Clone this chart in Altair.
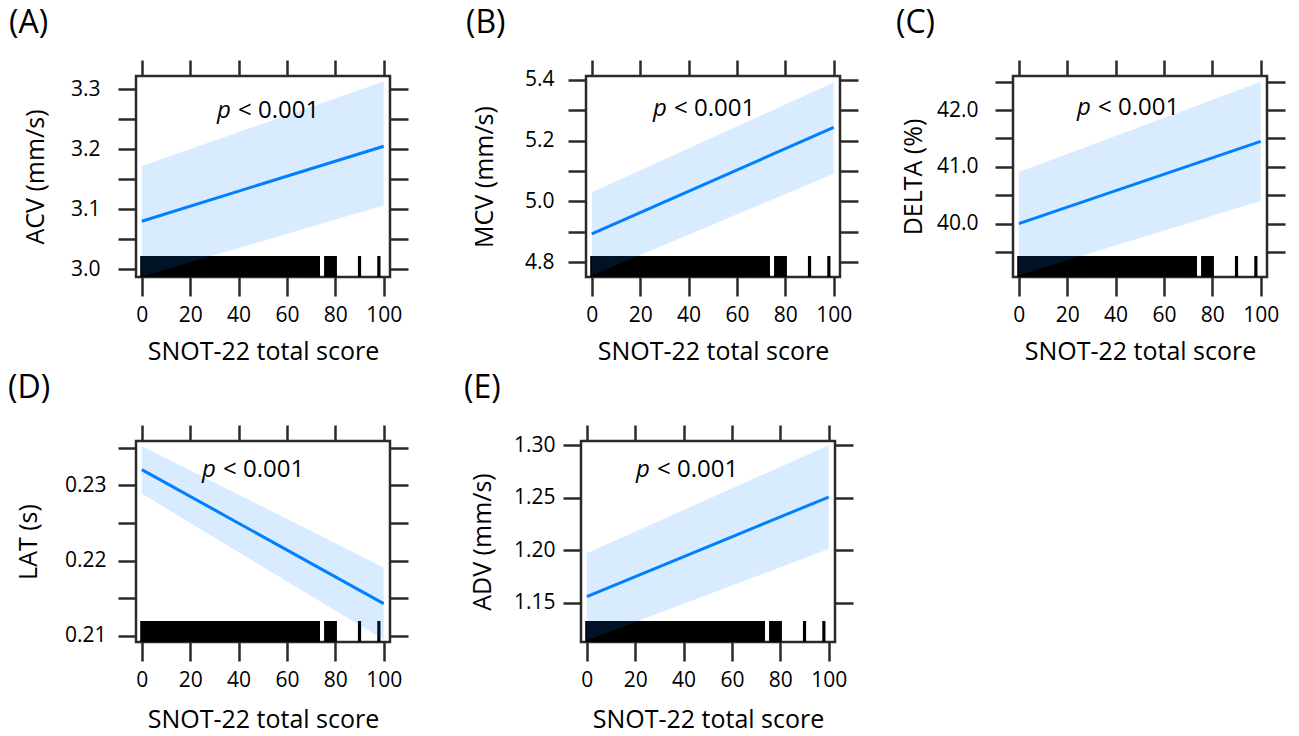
import altair as alt
import pandas as pd

FONT = "Open Sans"
BLUE = "#0080ff"

# ---- shared x (SNOT-22 total score) ----
score_ticks = [0, 20, 40, 60, 80, 100]
score_domain = [-2.4, 102.6]
rug_scores = [0, 1, 2, 3, 4, 5, 6, 7, 8, 9, 10, 11, 12, 13, 14, 15, 16, 17, 18, 19,
              20, 21, 22, 23, 24, 25, 26, 27, 28, 29, 30, 31, 32, 33, 34, 35, 36, 37, 38, 39,
              40, 41, 42, 43, 44, 45, 46, 47, 48, 49, 50, 51, 52, 53, 54, 55, 56, 57, 58, 59,
              60, 61, 62, 63, 64, 65, 66, 67, 68, 69, 70, 71, 72, 73, 76, 77, 78, 79, 80, 90, 98]
fit_x = [0, 100]

# ---- panel data ----
panel_tags = ["(A)", "(B)", "(C)", "(D)", "(E)"]
y_titles = ["ACV (mm/s)", "MCV (mm/s)", "DELTA (%)", "LAT (s)", "ADV (mm/s)"]
p_text = "< 0.001"

fit_A = [3.080, 3.205]
lower_A = [2.988, 3.106]
upper_A = [3.172, 3.313]

fit_B = [4.893, 5.244]
lower_B = [4.756, 5.091]
upper_B = [5.030, 5.392]

fit_C = [40.00, 41.45]
lower_C = [39.09, 40.40]
upper_C = [40.91, 42.50]

fit_D = [0.2321, 0.2143]
lower_D = [0.2289, 0.2095]
upper_D = [0.2352, 0.2191]

fit_E = [1.1557, 1.2506]
lower_E = [1.1140, 1.2010]
upper_E = [1.1970, 1.3000]

y_domains = [[2.987, 3.322], [4.751, 5.413], [39.06, 42.60], [0.2092, 0.2359], [1.1124, 1.304]]
y_ticks = [
    [3.0, 3.05, 3.1, 3.15, 3.2, 3.25, 3.3],
    [4.8, 4.9, 5.0, 5.1, 5.2, 5.3, 5.4],
    [39.5, 40.0, 40.5, 41.0, 41.5, 42.0, 42.5],
    [0.21, 0.215, 0.22, 0.225, 0.23, 0.235],
    [1.15, 1.2, 1.25, 1.3],
]
y_labels = [
    [3.0, 3.1, 3.2, 3.3],
    [4.8, 5.0, 5.2, 5.4],
    [40.0, 41.0, 42.0],
    [0.21, 0.22, 0.23],
    [1.15, 1.2, 1.25, 1.3],
]
y_formats = [".1f", ".1f", ".1f", ".2f", ".2f"]

fits = [fit_A, fit_B, fit_C, fit_D, fit_E]
lowers = [lower_A, lower_B, lower_C, lower_D, lower_E]
uppers = [upper_A, upper_B, upper_C, upper_D, upper_E]

# layout (pixels)
W, H = 254, 201
RUG_H = 21
tag_dx = [-127, -120, -117, -128, -117]
label_pad = [18, 14, 17, 12, 8]
title_pad = [22, 27, 10, 23, 18]
x_title_pad = [14, 14, 14, 17, 17]
p_pos = [(81, 42), (67, 40), (64, 39), (66, 36), (55, 36)]


def panel(i):
    xs = alt.Scale(domain=score_domain, nice=False, zero=False)
    ys = alt.Scale(domain=y_domains[i], nice=False, zero=False)
    labs = "[" + ",".join(repr(v) for v in y_labels[i]) + "]"
    label_expr = f"indexof({labs}, datum.value) >= 0 ? format(datum.value, '{y_formats[i]}') : ''"

    curve = pd.DataFrame({"x": fit_x, "fit": fits[i], "lo": lowers[i], "hi": uppers[i]})
    rug = pd.DataFrame({"score": rug_scores})

    rug_layer = alt.Chart(rug).mark_rule(color="black", strokeWidth=3.2).encode(
        x=alt.X("score:Q", scale=xs,
                axis=alt.Axis(orient="bottom", values=score_ticks, title="SNOT-22 total score",
                              tickSize=19, labelPadding=8, titlePadding=x_title_pad[i], format="d")),
        y=alt.value(H),
        y2=alt.value(H - RUG_H),
    )
    band = alt.Chart(curve).mark_area(color=BLUE, opacity=0.15, clip=True).encode(
        x=alt.X("x:Q", scale=xs,
                axis=alt.Axis(orient="top", values=score_ticks, labels=False, title=None, tickSize=16)),
        y=alt.Y("lo:Q", scale=ys,
                axis=alt.Axis(orient="left", values=y_ticks[i], labelExpr=label_expr,
                              title=y_titles[i], tickSize=18, labelPadding=label_pad[i],
                              titlePadding=title_pad[i])),
        y2="hi:Q",
    )
    line = alt.Chart(curve).mark_line(color=BLUE, strokeWidth=3, clip=True).encode(
        x=alt.X("x:Q", scale=xs, axis=None),
        y=alt.Y("fit:Q", scale=ys,
                axis=alt.Axis(orient="right", values=y_ticks[i], labels=False, title=None, tickSize=18)),
    )
    px, py = p_pos[i]
    p_italic = alt.Chart(pd.DataFrame({"t": ["p"]})).mark_text(
        font=FONT, fontSize=24, fontStyle="italic", align="left", baseline="alphabetic", color="black"
    ).encode(text="t:N", x=alt.value(px), y=alt.value(py))
    p_rest = alt.Chart(pd.DataFrame({"t": [p_text]})).mark_text(
        font=FONT, fontSize=24, align="left", baseline="alphabetic", color="black"
    ).encode(text="t:N", x=alt.value(px + 21), y=alt.value(py))

    return alt.layer(rug_layer, band, line, p_italic, p_rest).resolve_axis(
        x="independent", y="independent"
    ).properties(
        width=W, height=H,
        title=alt.TitleParams(panel_tags[i], anchor="start", frame="group", dx=tag_dx[i],
                              fontSize=32, fontWeight="normal", font=FONT, color="black", offset=19),
    )


row1 = alt.hconcat(alt.hconcat(panel(0), panel(1), spacing=53), panel(2), spacing=33)
row2 = alt.hconcat(panel(3), panel(4), spacing=51)

chart = alt.vconcat(row1, row2, spacing=4).properties(
    padding={"left": 6, "top": 5, "right": 5, "bottom": 3},
    background="white",
).configure_view(
    stroke="#2a2a2a", strokeWidth=2.5
).configure_axis(
    domain=False, grid=False, tickColor="#2a2a2a", tickWidth=2.5,
    labelFont=FONT, labelFontSize=21, labelColor="black",
    titleFont=FONT, titleFontSize=25, titleFontWeight="normal", titleColor="black",
)

chart.save("out.html", embed_options={"renderer": "svg", "actions": False})
